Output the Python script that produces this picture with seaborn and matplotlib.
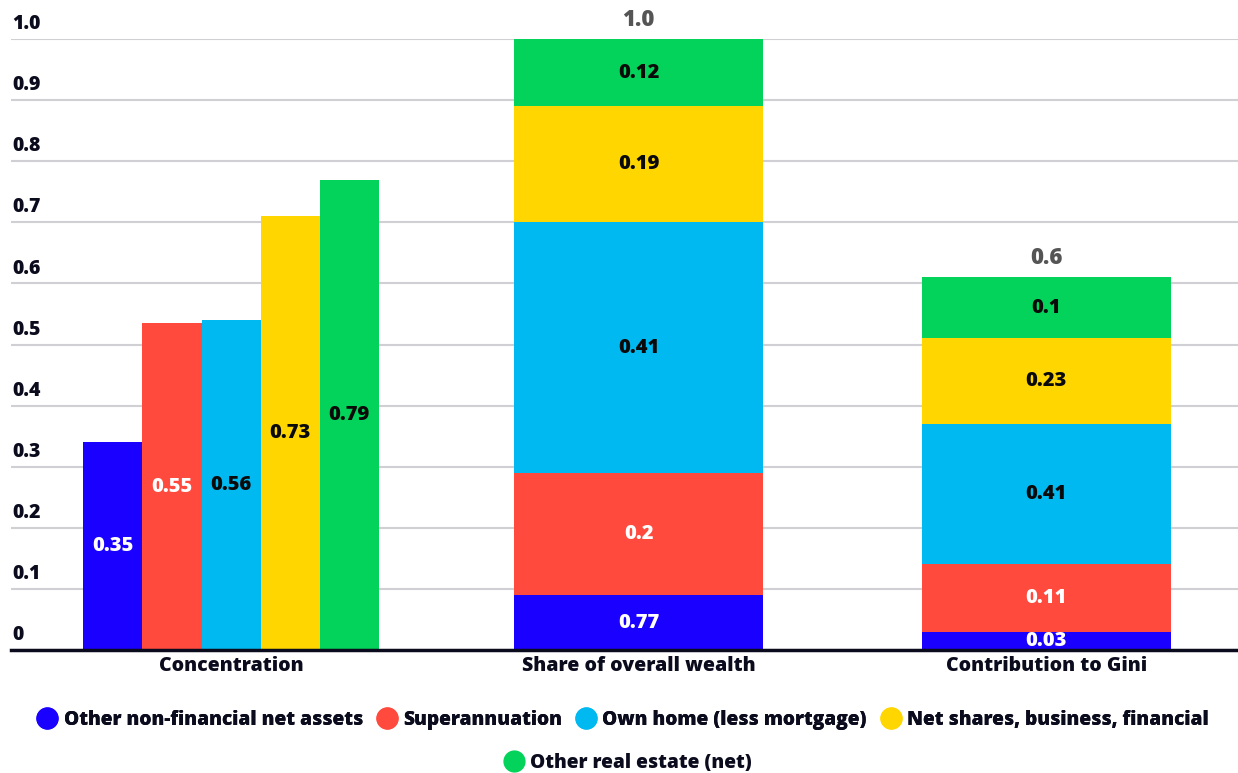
import matplotlib.pyplot as plt
from matplotlib.lines import Line2D
from matplotlib import transforms
import seaborn as sns
import pandas as pd
import numpy as np

# data
categories = ['Concentration', 'Share of overall wealth', 'Contribution to Gini']
series = ['Other non-financial net assets', 'Superannuation', 'Own home (less mortgage)',
          'Net shares, business, financial', 'Other real estate (net)']
colors = ['#1a00ff', '#ff4a3d', '#00b9f0', '#ffd600', '#03d35a']
label_colors = ['white', 'white', '#0a0a0a', '#0a0a0a', '#0a0a0a']

conc_heights = [0.34, 0.535, 0.54, 0.71, 0.77]
conc_labels = ['0.35', '0.55', '0.56', '0.73', '0.79']

share_heights = [0.09, 0.20, 0.41, 0.19, 0.11]
share_labels = ['0.77', '0.2', '0.41', '0.19', '0.12']
share_total = '1.0'

gini_heights = [0.03, 0.11, 0.23, 0.14, 0.10]
gini_labels = ['0.03', '0.11', '0.41', '0.23', '0.1']
gini_total = '0.6'

yticks = [0, 0.1, 0.2, 0.3, 0.4, 0.5, 0.6, 0.7, 0.8, 0.9, 1.0]
ytick_labels = ['0', '0.1', '0.2', '0.3', '0.4', '0.5', '0.6', '0.7', '0.8', '0.9', '1.0']

sns.set_style('white')
plt.rcParams['font.family'] = ['Open Sans', 'DejaVu Sans']
W = 'heavy'
navy = '#0b0b1e'

fig = plt.figure(figsize=(12.38, 7.73), dpi=100)
ax = fig.add_axes([11 / 1238, 123 / 773, 1227 / 1238, 611 / 773])

# grouped bars for concentration
df_conc = pd.DataFrame({'cat': categories[0], 'series': series, 'value': conc_heights})
sns.barplot(data=df_conc, x='cat', y='value', hue='series', order=categories,
            hue_order=series, palette=colors, width=0.725, saturation=1,
            legend=False, ax=ax, zorder=3, linewidth=0, edgecolor='none')

for cont, lab, lc in zip(ax.containers, conc_labels, label_colors):
    for p in cont.patches:
        ax.text(p.get_x() + p.get_width() / 2, p.get_height() / 2, lab,
                ha='center', va='center', color=lc, fontsize=14.5,
                fontweight=W, zorder=5)

# stacked bars (drawn back to front from cumulative totals)
stack = np.array([share_heights, gini_heights])
cum = np.cumsum(stack, axis=1)
for i in range(len(series) - 1, -1, -1):
    sns.barplot(x=categories[1:], y=cum[:, i], order=categories, color=colors[i],
                width=0.61, saturation=1, ax=ax, zorder=3, linewidth=0, edgecolor='none')

for j, labs in enumerate([share_labels, gini_labels]):
    for i, lab in enumerate(labs):
        ax.text(j + 1, cum[j, i] - stack[j, i] / 2, lab, ha='center', va='center',
                color=label_colors[i], fontsize=14.5, fontweight=W, zorder=5)

for j, tot in enumerate([share_total, gini_total]):
    ax.text(j + 1, cum[j, -1] + 0.012, tot, ha='center', va='bottom',
            color='#555555', fontsize=16, fontweight=W, zorder=5, clip_on=False)

ax.set_xlim(-0.54, 2.47)
ax.set_ylim(0, 1.0)
ax.set_yticks(yticks)
ax.set_yticklabels([])
ax.tick_params(left=False, bottom=False)
ax.yaxis.grid(True, color='#cfcfd4', linewidth=1.5, zorder=0)
ax.set_axisbelow(True)
for s in ['top', 'right', 'left']:
    ax.spines[s].set_visible(False)
ax.spines['bottom'].set_color(navy)
ax.spines['bottom'].set_linewidth(2.5)
ax.spines['bottom'].set_zorder(6)
ax.set_xlabel('')
ax.set_ylabel('')

trans = transforms.blended_transform_factory(ax.transAxes, ax.transData)
for t, lab in zip(yticks, ytick_labels):
    ax.text(0.001, t + 0.008, lab, transform=trans, ha='left', va='bottom',
            color=navy, fontsize=14, fontweight=W, clip_on=False)

ax.set_xticks(range(len(categories)))
ax.set_xticklabels(categories, fontsize=14, fontweight=W, color=navy)
ax.tick_params(axis='x', pad=1)

handles = [Line2D([], [], marker='o', linestyle='', markersize=15,
                  markerfacecolor=c, markeredgecolor=c) for c in colors]
leg1 = fig.legend(handles[:4], series[:4], loc='center', bbox_to_anchor=(0.503, 1 - 720 / 773),
                  ncol=4, frameon=False, handletextpad=0.3, columnspacing=0.7,
                  prop={'size': 13.8, 'weight': W}, labelcolor=navy, handlelength=1.1)
leg2 = fig.legend(handles[4:], series[4:], loc='center', bbox_to_anchor=(0.507, 1 - 763 / 773),
                  ncol=1, frameon=False, handletextpad=0.3,
                  prop={'size': 13.8, 'weight': W}, labelcolor=navy, handlelength=1.1)
fig.add_artist(leg1)

plt.savefig('out.png', dpi=100)
